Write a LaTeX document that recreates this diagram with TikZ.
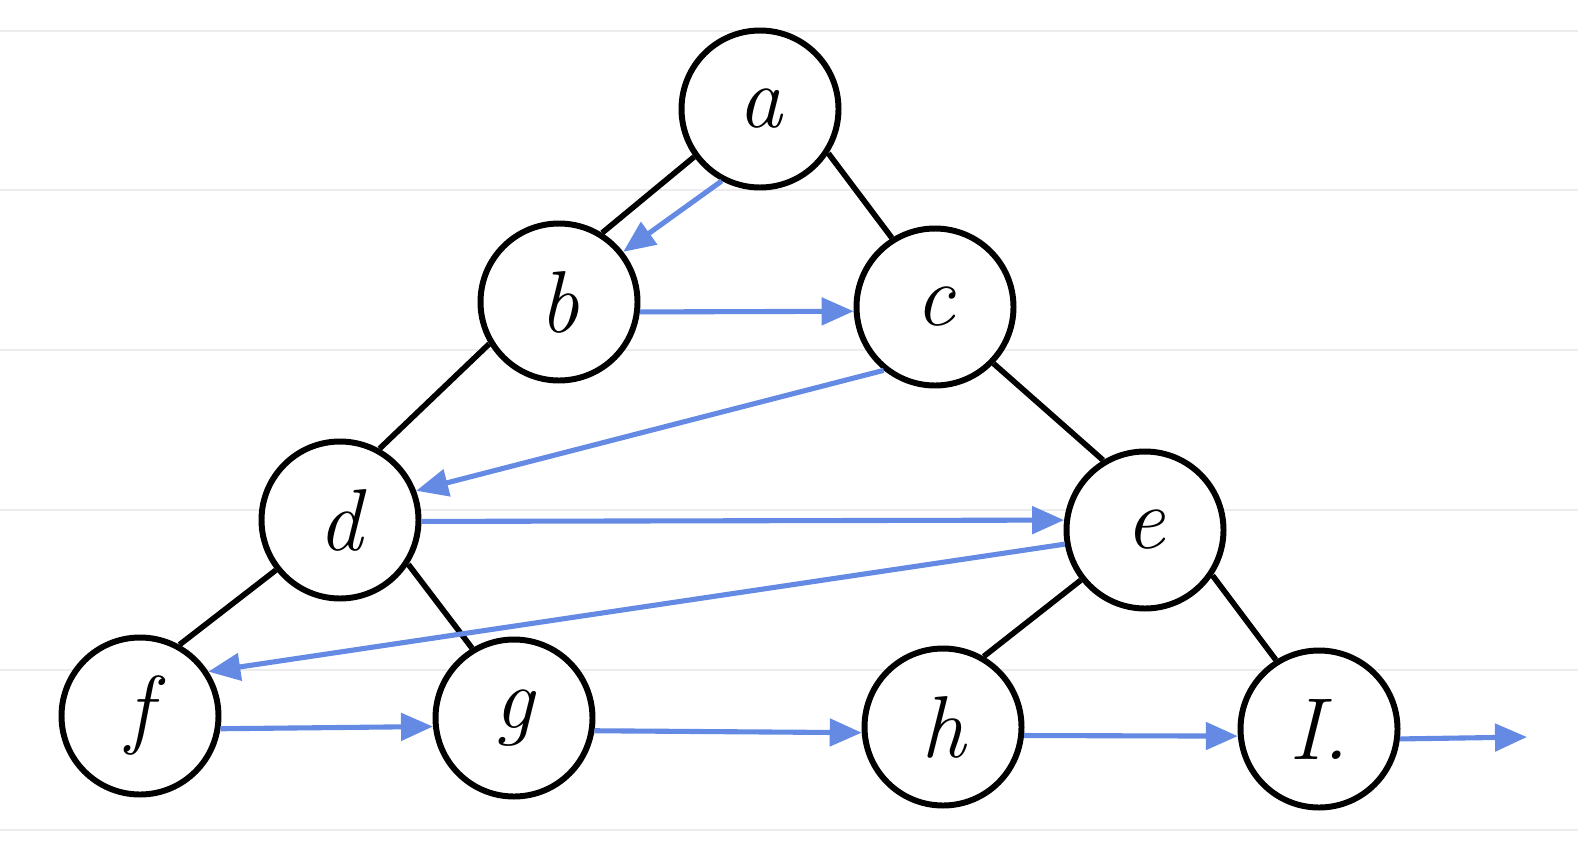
\documentclass[tikz,border=0pt]{standalone}
\usepackage{tikz}
\usetikzlibrary{positioning}
\usetikzlibrary{arrows.meta}
\usepackage[dvipsnames]{xcolor}
\definecolor{walkblue}{RGB}{100,138,228}
\definecolor{rulegray}{RGB}{236,236,238}

\begin{document}
\begin{tikzpicture}[
every node/.style={circle, draw=black, fill=white, line width=3.4pt, minimum size=3.14cm, inner sep=0, font=\fontsize{50}{50}\selectfont\itshape},
edge/.style={line width=3.2pt, black},
walk/.style={line width=2.9pt, walkblue, -{Triangle[length=0.64cm, width=0.54cm]}},
node distance=4cm, on grid
]
\useasboundingbox (0,0) rectangle (31.56,-16.94);
\foreach \y in {-0.62,-3.8,-7.0,-10.2,-13.4,-16.6}
  \draw[rulegray, line width=1.1pt] (0,\y) -- (31.56,\y);
\node (a) at (15.2,-2.18) {a};
\node[below left=3.86cm and 4.02cm of a] (b) {b};
\node[below right=3.96cm and 3.5cm of a] (c) {c};
\node[below left=4.36cm and 4.38cm of b] (d) {d};
\node[below right=4.46cm and 4.2cm of c] (e) {e};
\node[below left=3.92cm and 4cm of d] (f) {f};
\node[below right=3.96cm and 3.48cm of d] (g) {g};
\node[below left=3.94cm and 4.04cm of e] (h) {h};
\node[below right=3.98cm and 3.48cm of e] (i) {I.};
\coordinate (out) at (30.54,-14.74);
\draw[edge] (a.216) -- (b.58);
\draw[edge] (a.327) -- (c.122);
\draw[edge] (b.211) -- (d.61);
\draw[edge] (c.316) -- (e.121);
\draw[edge] (d.218) -- (f.61);
\draw[edge] (d.327) -- (g.121);
\draw[edge] (e.218) -- (h.60);
\draw[edge] (e.326) -- (i.122);
\draw[walk] (a.242) -- (b.38);
\draw[walk] (b.353) -- (c.183);
\draw[walk] (c.231) -- (d.21);
\draw[walk] (d.359) -- (e.173);
\draw[walk] (e.190) -- (f.33);
\draw[walk] (f.351) -- (g.186);
\draw[walk] (g.351) -- (h.184);
\draw[walk] (h.354) -- (i.185);
\draw[walk] (i.353) -- (out);
\end{tikzpicture}
\end{document}
